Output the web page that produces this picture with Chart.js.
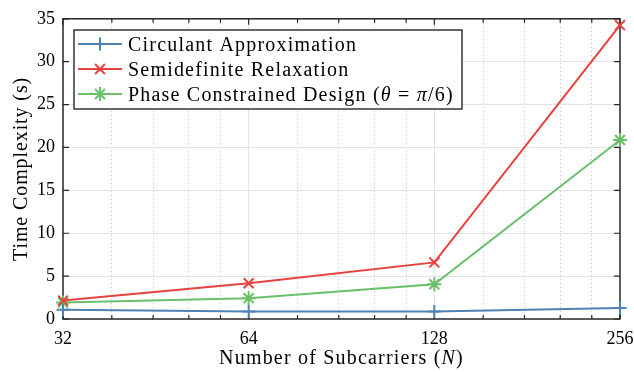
<!DOCTYPE html>
<html>
<head>
<meta charset="utf-8">
<script src="https://cdn.jsdelivr.net/npm/chart.js@4.4.0/dist/chart.umd.min.js"></script>
<style>
  html, body { margin: 0; padding: 0; background: #fff; }
  #wrap { width: 634px; height: 372px; }
</style>
</head>
<body>
<div id="wrap"><canvas id="myChart" width="634" height="372"></canvas></div>
<script>
// values
var subcarriers = [32, 64, 128, 256];
var circulant = [1.08, 0.88, 0.88, 1.27];
var semidefinite = [2.15, 4.17, 6.6, 34.26];
var phaseConstrained = [1.92, 2.43, 4.05, 20.87];
var xTickLabels = ['32', '64', '128', '256'];
var yTickValues = [0, 5, 10, 15, 20, 25, 30, 35];
var minorSteps = [1.2, 1.4, 1.6, 1.8];
var seriesNames = ['Circulant Approximation', 'Semidefinite Relaxation', 'Phase Constrained Design'];

var FONT = '"Liberation Serif", "Times New Roman", serif';
var AXIS_COLOR = '#262626';
var TEXT_SIZE = 20;

function points(ys) {
	return subcarriers.map(function (n, i) { return { x: n, y: ys[i] }; });
}

// draw a marker like matlab: + x *
function drawMarker(ctx, style, x, y, r) {
	ctx.beginPath();
	if (style === 'cross' || style === 'star') {
		ctx.moveTo(x - r, y); ctx.lineTo(x + r, y);
		ctx.moveTo(x, y - r); ctx.lineTo(x, y + r);
	}
	if (style === 'crossRot' || style === 'star') {
		var d = r * Math.SQRT1_2;
		ctx.moveTo(x - d, y - d); ctx.lineTo(x + d, y + d);
		ctx.moveTo(x - d, y + d); ctx.lineTo(x + d, y - d);
	}
	ctx.stroke();
}

// text pieces with italic math letters
function drawPieces(ctx, pieces, x, y, size) {
	pieces.forEach(function (p) {
		ctx.font = (p[1] ? 'italic ' : '') + size + 'px ' + FONT;
		ctx.fillText(p[0], x, y);
		x += ctx.measureText(p[0]).width;
	});
	return x;
}
function piecesWidth(ctx, pieces, size) {
	var w = 0;
	pieces.forEach(function (p) {
		ctx.font = (p[1] ? 'italic ' : '') + size + 'px ' + FONT;
		w += ctx.measureText(p[0]).width;
	});
	return w;
}

var framePlugin = {
	id: 'frame',
	beforeDatasetsDraw: function (chart) {
		var ctx = chart.ctx, a = chart.chartArea, xs = chart.scales.x, ys = chart.scales.y;
		ctx.save();
		ctx.strokeStyle = AXIS_COLOR;
		ctx.lineWidth = 1.2;
		ctx.beginPath();
		xs.ticks.forEach(function (t) {
			var px = xs.getPixelForValue(t.value);
			var len = t.major ? 6 : 4;
			ctx.moveTo(px, a.bottom); ctx.lineTo(px, a.bottom - len);
			ctx.moveTo(px, a.top); ctx.lineTo(px, a.top + len);
		});
		ys.ticks.forEach(function (t) {
			var py = ys.getPixelForValue(t.value);
			ctx.moveTo(a.left, py); ctx.lineTo(a.left + 6, py);
			ctx.moveTo(a.right, py); ctx.lineTo(a.right - 6, py);
		});
		ctx.stroke();
		ctx.lineWidth = 1.5;
		ctx.strokeRect(a.left, a.top, a.right - a.left, a.bottom - a.top);

		ctx.fillStyle = '#000';
		ctx.textBaseline = 'middle';

		// x axis title with italic N
		ctx.letterSpacing = '1.2px';
		var title = [['Number of Subcarriers (', false], ['N', true], [')', false]];
		var w = piecesWidth(ctx, title, TEXT_SIZE);
		drawPieces(ctx, title, (a.left + a.right) / 2 - w / 2, 359, TEXT_SIZE);

		// y axis title
		ctx.letterSpacing = '0.9px';
		var yTitle = [['Time Complexity (s)', false]];
		ctx.translate(22, (a.top + a.bottom) / 2);
		ctx.rotate(-Math.PI / 2);
		w = piecesWidth(ctx, yTitle, TEXT_SIZE);
		drawPieces(ctx, yTitle, -w / 2, 0, TEXT_SIZE);
		ctx.restore();
	}
};

var legendPlugin = {
	id: 'boxLegend',
	afterDraw: function (chart) {
		var ctx = chart.ctx;
		var bx = 74, by = 30, bw = 388, bh = 79;
		ctx.save();
		ctx.fillStyle = '#fff';
		ctx.fillRect(bx, by, bw, bh);
		ctx.strokeStyle = '#000';
		ctx.lineWidth = 1.2;
		ctx.strokeRect(bx, by, bw, bh);
		var labels = [
			[[seriesNames[0], false]],
			[[seriesNames[1], false]],
			[[seriesNames[2] + ' (', false], ['\u03b8', true], [' = ', false], ['\u03c0', true], ['/6)', false]]
		];
		ctx.textBaseline = 'middle';
		ctx.letterSpacing = '1.2px';
		chart.data.datasets.forEach(function (ds, i) {
			var y = by + 14 + i * 25;
			ctx.strokeStyle = ds.borderColor;
			ctx.lineWidth = 2;
			ctx.beginPath();
			ctx.moveTo(bx + 4, y); ctx.lineTo(bx + 48, y);
			ctx.stroke();
			drawMarker(ctx, ds.pointStyle, bx + 26, y, ds.pointRadius);
			ctx.fillStyle = '#000';
			drawPieces(ctx, labels[i], bx + 54, y + 1.5, TEXT_SIZE);
		});
		ctx.restore();
	}
};

var ctx = document.getElementById('myChart').getContext('2d');
var myChart = new Chart(ctx, {
	type: 'line',
	data: {
		datasets: [{
			label: seriesNames[0],
			data: points(circulant),
			borderColor: '#4f81b5',
			pointStyle: 'cross',
			pointRadius: 6.5
		}, {
			label: seriesNames[1],
			data: points(semidefinite),
			borderColor: '#e9413e',
			pointStyle: 'crossRot',
			pointRadius: 7
		}, {
			label: seriesNames[2] + ' (\u03b8 = \u03c0/6)',
			data: points(phaseConstrained),
			borderColor: '#6abf69',
			pointStyle: 'star',
			pointRadius: 7
		}]
	},
	options: {
		responsive: false,
		animation: false,
		layout: { padding: { top: 17, right: 0, bottom: 0, left: 0 } },
		elements: {
			line: { borderWidth: 2, tension: 0, fill: false },
			point: { borderWidth: 2, hoverRadius: 7 }
		},
		datasets: { line: { clip: false } },
		plugins: {
			legend: { display: false },
			tooltip: { enabled: false }
		},
		scales: {
			x: {
				type: 'logarithmic',
				min: 32,
				max: 256,
				afterBuildTicks: function (scale) {
					var ticks = [];
					subcarriers.forEach(function (n, i) {
						ticks.push({ value: n, major: true });
						if (i < subcarriers.length - 1) {
							minorSteps.forEach(function (m) { ticks.push({ value: n * m, major: false }); });
						}
					});
					scale.ticks = ticks;
				},
				afterFit: function (scale) {
					scale.height = 53;
					scale.paddingLeft = 0;
					scale.paddingRight = 14;
				},
				grid: {
					drawTicks: false,
					color: function (c) {
						if (!c.tick) return 'rgba(0,0,0,0)';
						if (c.tick.value === 32 || c.tick.value === 256) return 'rgba(0,0,0,0)';
						return c.tick.major ? '#e3e3e3' : '#d0d0d0';
					},
					lineWidth: 1
				},
				border: {
					display: false,
					dash: function (c) {
						return c.tick && !c.tick.major ? [1.5, 2.5] : [];
					}
				},
				ticks: {
					autoSkip: false,
					maxRotation: 0,
					padding: 9,
					color: '#000',
					font: { family: FONT, size: 18 },
					callback: function (v) {
						var i = subcarriers.indexOf(v);
						return i >= 0 ? xTickLabels[i] : '';
					}
				}
			},
			y: {
				min: 0,
				max: 35,
				afterBuildTicks: function (scale) {
					scale.ticks = yTickValues.map(function (v) { return { value: v }; });
				},
				afterFit: function (scale) { scale.width = 63; },
				grid: {
					drawTicks: false,
					color: function (c) {
						if (!c.tick || c.tick.value === 0 || c.tick.value === 35) return 'rgba(0,0,0,0)';
						return '#e3e3e3';
					}
				},
				border: { display: false },
				ticks: {
					autoSkip: false,
					padding: 8,
					color: '#000',
					font: { family: FONT, size: 18 }
				}
			}
		}
	},
	plugins: [framePlugin, legendPlugin]
});
</script>
</body>
</html>
